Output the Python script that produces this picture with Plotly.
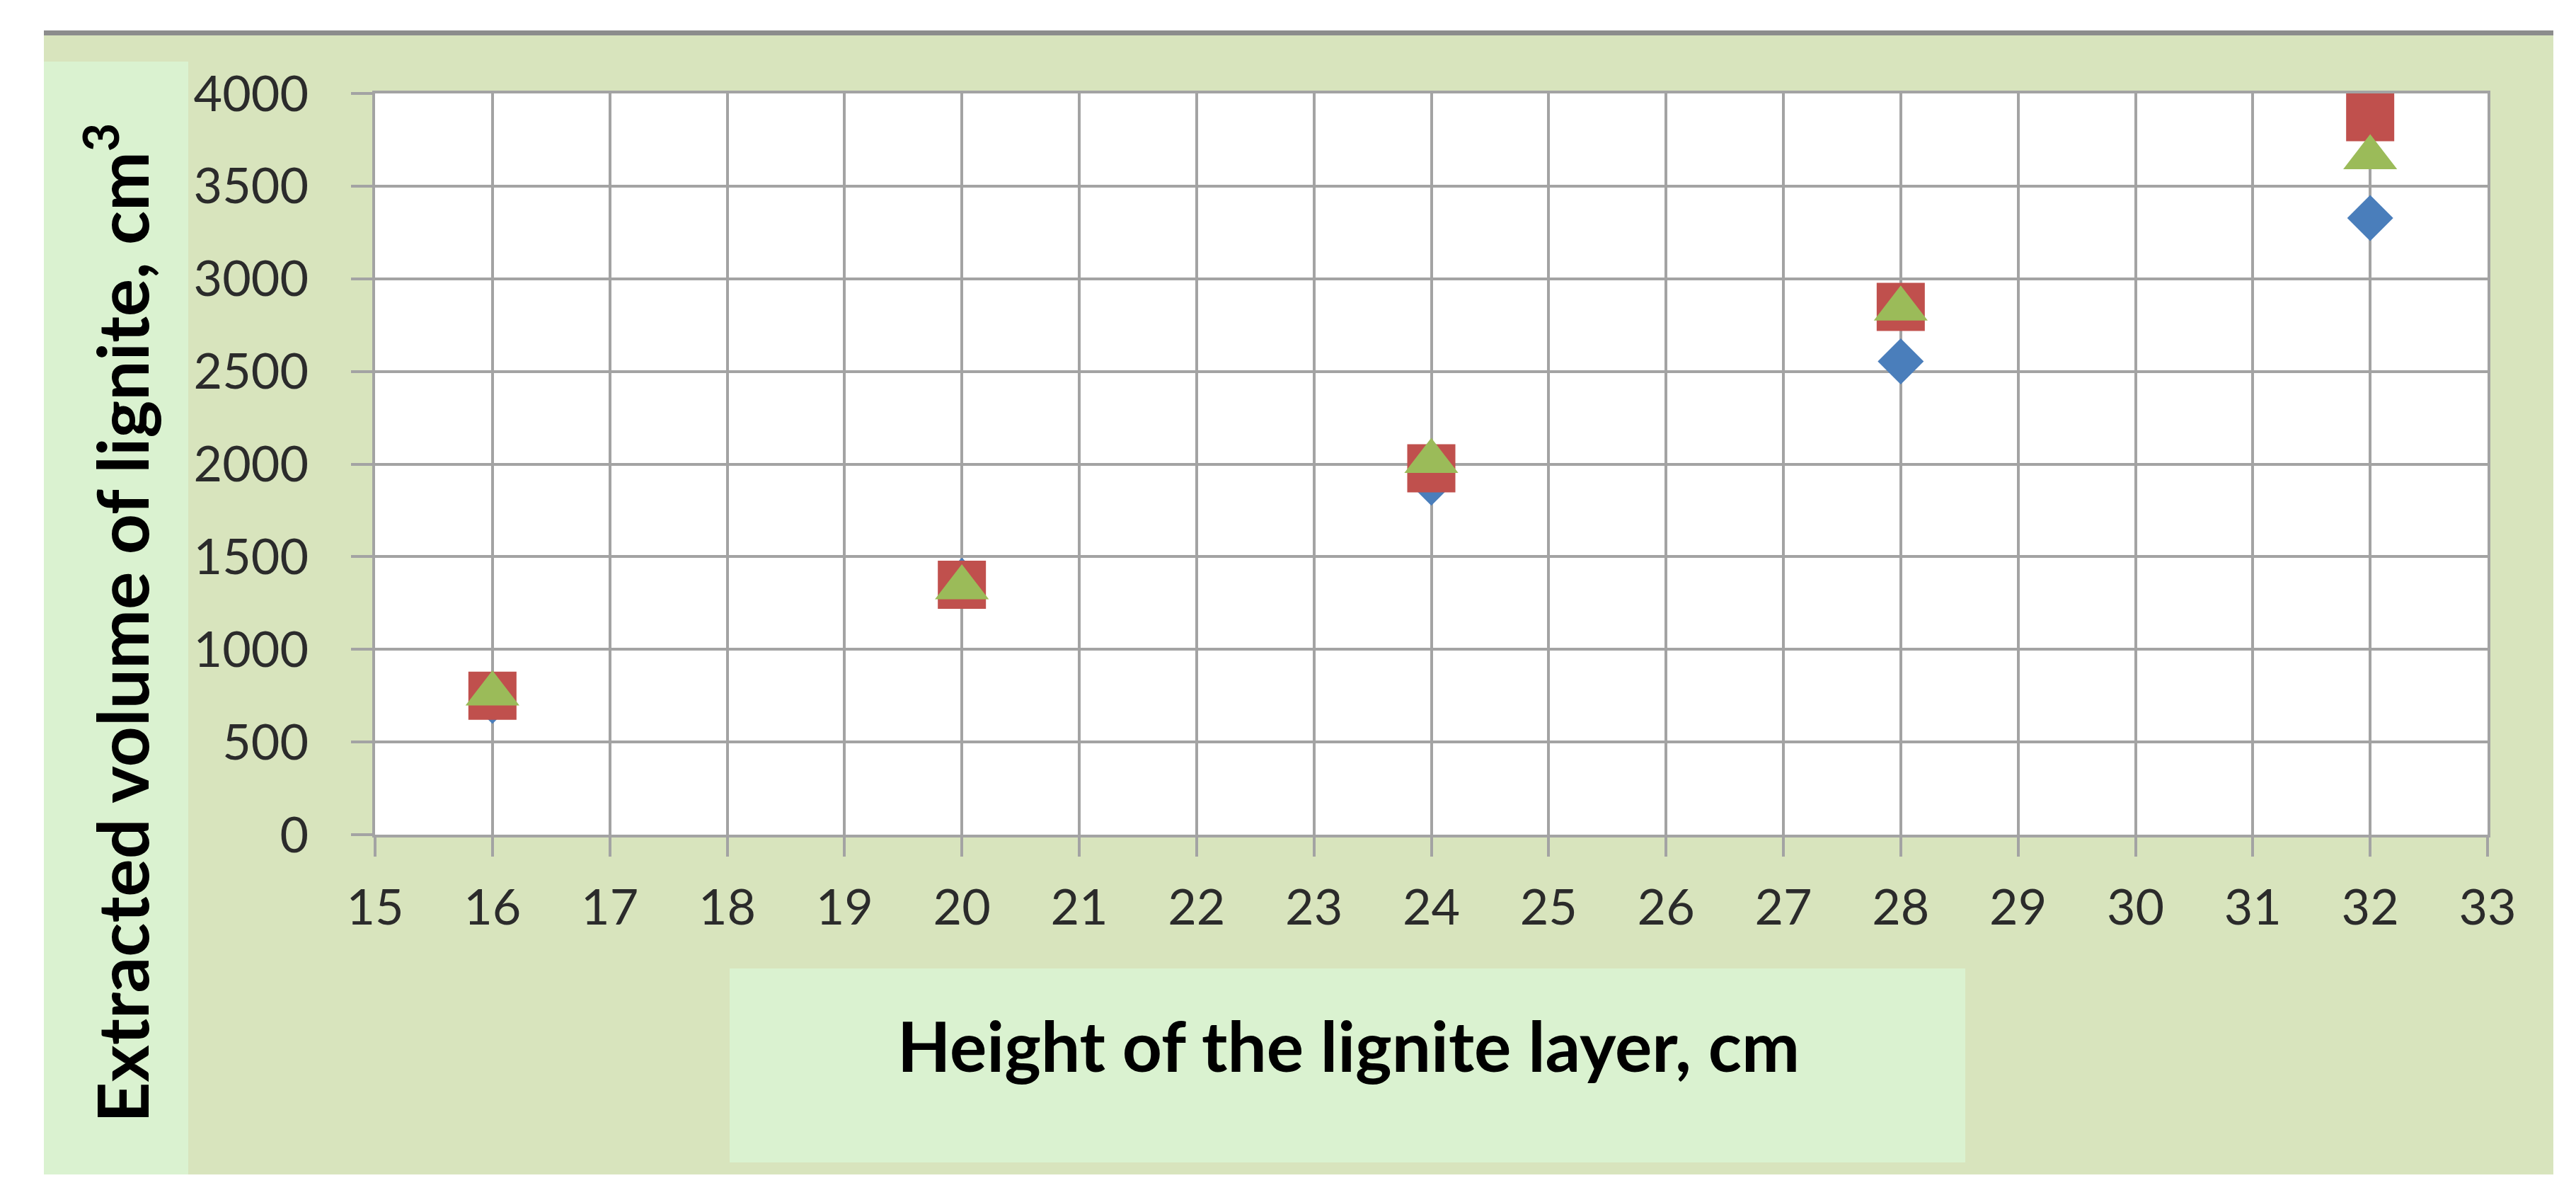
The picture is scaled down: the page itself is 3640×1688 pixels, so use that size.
import plotly.graph_objects as go

# ---------------- data ----------------
heights = [16, 20, 24, 28, 32]
series_blue = [722, 1371, 1900, 2554, 3328]
series_red = [750, 1349, 1977, 2848, 3872]
series_green = [760, 1333, 2015, 2838, 3654]

x_title = "Height of the lignite layer, cm"
y_title = "Extracted volume of lignite, cm<sup>3</sup>"

# ---------------- geometry helpers (pixel -> paper) ----------------
W, H = 3640, 1688
PL, PR, PT, PB = 522, 3507, 124, 1171  # plot area in pixels


def px(x):
    return (x - PL) / (PR - PL)


def py(y):
    return (PB - y) / (PB - PT)


fig = go.Figure()

fig.add_trace(go.Scatter(
    x=heights, y=series_blue, mode="markers", cliponaxis=False,
    marker=dict(symbol="diamond", size=50, color="#4A7EBB", line=dict(width=0)),
))
fig.add_trace(go.Scatter(
    x=heights, y=series_red, mode="markers", cliponaxis=False,
    marker=dict(symbol="square", size=68, color="#C0504D", line=dict(width=0)),
))
fig.add_trace(go.Scatter(
    x=heights, y=series_green, mode="markers", cliponaxis=False,
    marker=dict(symbol="triangle-up", size=66, color="#9BBB59", line=dict(width=0)),
))

panel = "#D8E4BD"
light = "#DAF2D0"
shapes = [
    # outer chart panel
    dict(type="rect", xref="paper", yref="paper", x0=px(54), x1=px(3600), y0=py(1651), y1=py(42),
         fillcolor=panel, line=dict(width=0), layer="below"),
    # top grey border
    dict(type="rect", xref="paper", yref="paper", x0=px(54), x1=px(3600), y0=py(42), y1=py(35),
         fillcolor="#8C8C8C", line=dict(width=0), layer="below"),
    # plot area (white)
    dict(type="rect", xref="paper", yref="paper", x0=0, x1=1, y0=0, y1=1,
         fillcolor="#FFFFFF", line=dict(width=0), layer="below"),
    # y-title box
    dict(type="rect", xref="paper", yref="paper", x0=px(54), x1=px(258), y0=py(1651), y1=py(79),
         fillcolor=light, line=dict(width=0), layer="below"),
    # x-title box
    dict(type="rect", xref="paper", yref="paper", x0=px(1023), x1=px(2769), y0=py(1634), y1=py(1360),
         fillcolor=light, line=dict(width=0), layer="below"),
]

annotations = [
    dict(text=x_title, xref="paper", yref="paper", x=px(1897), y=py(1468),
         xanchor="center", yanchor="middle", showarrow=False,
         font=dict(family="Lato", size=98, color="#000000", weight="bold")),
    dict(text=y_title, xref="paper", yref="paper", x=px(157), y=py(872),
         xanchor="center", yanchor="middle", showarrow=False, textangle=-90,
         font=dict(family="Lato", size=100, color="#000000", weight="bold")),
]

grid = "#A3A3A3"
tickfont = dict(family="Lato", size=70, color="#2B2B2B")

fig.update_layout(
    width=W, height=H, autosize=False,
    margin=dict(l=PL, r=W - PR, t=PT, b=H - PB, pad=0),
    paper_bgcolor="#FFFFFF", plot_bgcolor="#FFFFFF",
    showlegend=False,
    shapes=shapes, annotations=annotations,
    xaxis=dict(range=[15, 33], tick0=15, dtick=1, showgrid=True, gridcolor=grid, gridwidth=4,
               showline=True, linecolor=grid, linewidth=4, mirror=True, zeroline=False,
               ticks="outside", ticklen=27, tickwidth=4, tickcolor=grid,
               tickfont=tickfont, ticklabelstandoff=12),
    yaxis=dict(range=[0, 4000], tick0=0, dtick=500, showgrid=True, gridcolor=grid, gridwidth=4,
               showline=True, linecolor=grid, linewidth=4, mirror=True, zeroline=False,
               ticks="outside", ticklen=30, tickwidth=4, tickcolor=grid,
               tickfont=tickfont, ticklabelstandoff=46),
)

fig.write_html("out.html")
